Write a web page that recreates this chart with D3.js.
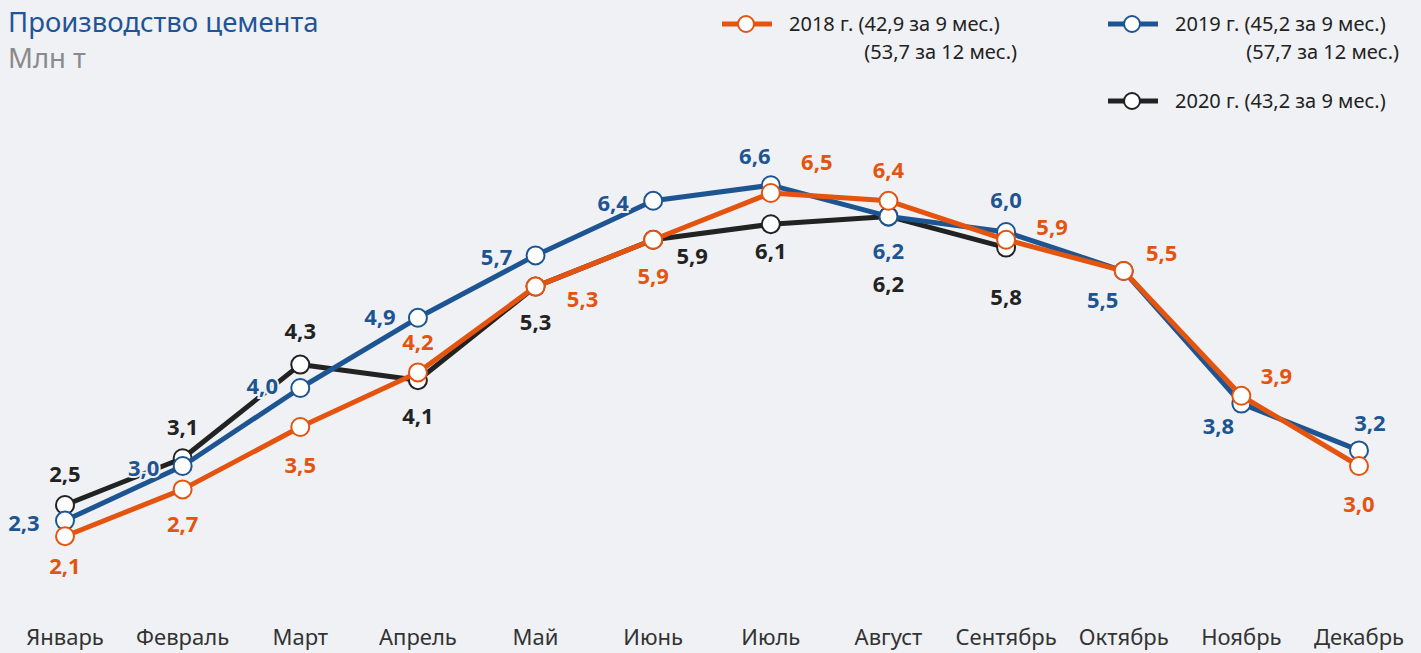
<!DOCTYPE html>
<html>
<head>
<meta charset="utf-8">
<script src="https://cdn.jsdelivr.net/npm/d3@7"></script>
<style>
  body { margin: 0; background: #f0f1f4; }
  text { font-family: "Noto Sans", "Open Sans", sans-serif; }
</style>
</head>
<body>
<div class="canva"></div>
<script>
// data
const months = ["Январь", "Февраль", "Март", "Апрель", "Май", "Июнь", "Июль", "Август", "Сентябрь", "Октябрь", "Ноябрь", "Декабрь"];
const values2018 = [2.1, 2.7, 3.5, 4.2, 5.3, 5.9, 6.5, 6.4, 5.9, 5.5, 3.9, 3.0];
const values2019 = [2.3, 3.0, 4.0, 4.9, 5.7, 6.4, 6.6, 6.2, 6.0, 5.5, 3.8, 3.2];
const values2020 = [2.5, 3.1, 4.3, 4.1, 5.3, 5.9, 6.1, 6.2, 5.8];
const legendLines = [
  ["2018 г. (42,9 за 9 мес.)", "(53,7 за 12 мес.)"],
  ["2019 г. (45,2 за 9 мес.)", "(57,7 за 12 мес.)"],
  ["2020 г. (43,2 за 9 мес.)"]
];

// where each value label sits relative to its point (dx, dy)
const offs2018 = [[0,30],[0,35],[0,38],[0,-30],[47,13],[0,36],[46,-31],[0,-31],[46,-13],[38,-18],[35,-20],[0,38]];
const offs2019 = [[-41,3],[-39,2],[-38,-2],[-38,-1],[-39,2],[-40,2],[-16,-29],[0,35],[0,-32],[-21,29],[-23,23],[11,-27]];
const offs2020 = [[0,-31],[0,-31],[0,-33],[0,36],[0,36],[39,16],[0,27],[0,68],[0,50]];

const W = 1421, H = 653;
const bg = "#f0f1f4";

const svg = d3.select(".canva").append("svg")
  .attr("width", W)
  .attr("height", H);

const x = d3.scalePoint().domain(months).range([65, 1359]);
const y = d3.scaleLinear().domain([0, 7]).range([700, 154]);

const fmt = v => d3.format(".1f")(v).replace(".", ",");

// title
svg.append("text").attr("x", 8).attr("y", 32)
  .attr("font-size", 27.5).attr("fill", "#1f5597")
  .text("Производство цемента");
svg.append("text").attr("x", 8).attr("y", 68)
  .attr("font-size", 27.5).attr("fill", "#8a8a8a")
  .text("Млн т");

// month labels
svg.selectAll(".month")
  .data(months)
  .enter()
  .append("text")
    .attr("class", "month")
    .attr("x", d => x(d))
    .attr("y", 645)
    .attr("text-anchor", "middle")
    .attr("font-size", 22)
    .attr("fill", "#333")
    .text(d => d);

const series = [
  {values: values2020, color: "#222222", offs: offs2020},
  {values: values2019, color: "#1d5592", offs: offs2019},
  {values: values2018, color: "#e4540f", offs: offs2018}
];

const line = d3.line()
  .x((d, i) => x(months[i]))
  .y(d => y(d));

// lines + markers, black at the bottom, orange on top
series.forEach(s => {
  const g = svg.append("g");
  g.append("path")
    .datum(s.values)
    .attr("d", line)
    .attr("fill", "none")
    .attr("stroke", s.color)
    .attr("stroke-width", 5)
    .attr("stroke-linejoin", "round");
  g.selectAll("circle")
    .data(s.values)
    .enter()
    .append("circle")
      .attr("cx", (d, i) => x(months[i]))
      .attr("cy", d => y(d))
      .attr("r", 9)
      .attr("fill", "#fff")
      .attr("stroke", s.color)
      .attr("stroke-width", 2);
});

// value labels
series.forEach(s => {
  svg.append("g").selectAll("text")
    .data(s.values)
    .enter()
    .append("text")
      .attr("x", (d, i) => x(months[i]) + s.offs[i][0])
      .attr("y", (d, i) => y(d) + s.offs[i][1])
      .attr("dy", "0.35em")
      .attr("text-anchor", "middle")
      .attr("font-size", 22)
      .attr("font-weight", "bold")
      .attr("fill", s.color)
      .attr("stroke", bg)
      .attr("stroke-width", 4)
      .attr("paint-order", "stroke")
      .text(d => fmt(d));
});

// legend
const legendPos = [
  {x: 722, y: 24, color: "#e4540f", right: 1017},
  {x: 1108, y: 24, color: "#1d5592", right: 1399},
  {x: 1108, y: 101, color: "#222222", right: 1399}
];
legendPos.forEach((p, i) => {
  const g = svg.append("g");
  g.append("line")
    .attr("x1", p.x).attr("x2", p.x + 50)
    .attr("y1", p.y).attr("y2", p.y)
    .attr("stroke", p.color).attr("stroke-width", 5);
  g.append("circle")
    .attr("cx", p.x + 24).attr("cy", p.y).attr("r", 8)
    .attr("fill", "#fff").attr("stroke", p.color).attr("stroke-width", 2);
  g.append("text")
    .attr("x", p.x + 67).attr("y", p.y).attr("dy", "0.35em")
    .attr("font-size", 20).attr("fill", "#222")
    .text(legendLines[i][0]);
  if (legendLines[i][1]) {
    g.append("text")
      .attr("x", p.right).attr("y", p.y + 28).attr("dy", "0.35em")
      .attr("text-anchor", "end")
      .attr("font-size", 20).attr("fill", "#222")
      .text(legendLines[i][1]);
  }
});
</script>
</body>
</html>
